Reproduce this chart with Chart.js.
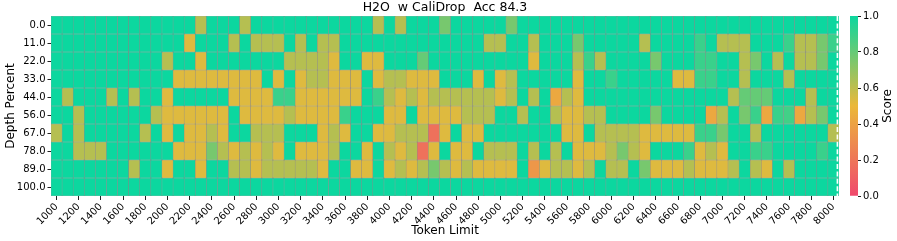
<!DOCTYPE html>
<html><head><meta charset="utf-8">
<script src="https://cdn.jsdelivr.net/npm/chart.js@4/dist/chart.umd.min.js"></script>
<style>
html,body{margin:0;padding:0;background:#fff;}
#wrap{position:relative;width:897px;height:241px;overflow:hidden;}
#main{position:absolute;left:0;top:0;}
#cbar{position:absolute;left:840px;top:0;}
</style></head><body>
<div id="wrap">
<canvas id="main" width="890" height="241"></canvas>
<canvas id="cbar" width="57" height="241"></canvas>
</div>
<script>
const chartTitle = 'H2O  w CaliDrop  Acc 84.3';
const tokenLimits = ['1000','1100','1200','1300','1400','1500','1600','1700','1800','1900',
  '2000','2100','2200','2300','2400','2500','2600','2700','2800','2900',
  '3000','3100','3200','3300','3400','3500','3600','3700','3800','3900',
  '4000','4100','4200','4300','4400','4500','4600','4700','4800','4900',
  '5000','5100','5200','5300','5400','5500','5600','5700','5800','5900',
  '6000','6100','6200','6300','6400','6500','6600','6700','6800','6900',
  '7000','7100','7200','7300','7400','7500','7600','7700','7800','7900','8000'];
const depthPercents = ['0.0','11.0','22.0','33.0','44.0','56.0','67.0','78.0','89.0','100.0'];
const colorbarTicks = [0, 0.2, 0.4, 0.6, 0.8, 1.0];

const depth0 = [1,1,1,1,1,1,1,1,1,1, 1,1,1,.62,1,1,1,.62,1,1, 1,1,1,1,1,1,1,1,1,.62, 1,.62,1,1,1,.76,1,1,1,1,
  1,.76,1,1,1,1,1,1,1,1, 1,1,1,1,1,1,1,1,1,1, 1,1,1,1,1,1,1,1,1,1, 1];
const depth11 = [1,1,1,1,1,1,1,1,1,1, 1,1,.53,1,1,1,.62,1,.62,.62, .62,1,.62,1,.62,.62,1,1,1,1, 1,1,1,1,1,1,1,1,1,.62,
  .62,1,1,.62,1,1,1,.76,1,1, 1,1,1,.62,1,1,1,1,.9,1, .62,.62,.62,1,1,1,.9,.62,.62,.76, .9];
const depth22 = [1,1,1,1,1,1,1,1,1,1, .62,1,1,.53,1,1,1,1,1,1, 1,.62,.62,.62,.62,.53,1,1,.53,.53, 1,1,1,.8,1,1,1,1,1,1,
  1,1,1,.53,1,1,1,.62,.9,.62, 1,1,1,1,.76,1,1,1,.9,.9, 1,1,.62,.76,1,.62,1,.62,.62,.76, 1];
const depth33 = [1,1,1,1,1,1,1,1,1,1, 1,.53,.53,.53,.53,.53,.53,.53,.53,1, .53,1,.53,.62,.62,.53,.53,.53,1,.53, .62,.62,.53,.53,.53,1,1,1,.53,1,
  .53,.62,1,1,1,1,1,.53,1,1, .9,1,1,1,1,1,.53,.53,.9,.9, 1,1,.62,1,1,1,.62,1,1,1, 1];
const depth44 = [1,.62,1,1,1,.62,1,.62,1,1, .53,1,1,1,1,1,.53,.53,.53,.53, .9,.9,.53,.53,.53,.53,.53,.53,1,.9, .62,.53,.62,.53,.62,.62,.62,.62,.62,.62,
  .53,.62,1,.62,1,.43,.62,.53,1,1, 1,1,1,1,1,1,1,1,1,1, 1,.62,.8,.8,.8,1,1,1,.62,1, 1];
const depth56 = [1,1,.62,1,1,1,1,1,1,.62, .53,.53,.53,.53,.53,.53,1,.53,.53,.53, .53,.62,.53,.53,.53,.53,.9,1,1,1, .53,.53,1,.53,.53,.53,.53,.62,.62,.62,
  1,1,.62,1,1,.62,.53,.53,.62,.62, 1,1,1,1,.76,1,1,1,1,.43, .62,1,.76,.9,.43,.9,.88,.43,.62,.76, 1];
const depth67 = [.62,1,.62,1,1,1,1,1,.62,1, .53,1,.53,.53,.62,.53,1,1,.62,.62, .62,1,1,1,.53,.62,.53,1,1,.53, .53,.62,.62,.62,.18,.53,1,.53,.53,1,
  1,1,1,1,1,1,.53,.53,1,.62, .62,.62,.62,.53,.53,.53,.53,.53,.9,.9, .76,1,1,.62,1,1,1,1,1,1, .62];
const depth78 = [1,1,.62,.62,.62,1,1,1,1,1, 1,.53,.53,.53,.76,.62,.53,.62,.53,.62, .53,1,.53,.53,.53,.62,1,1,.53,1, .62,.53,.62,.18,.53,1,.53,.53,1,.62,
  .62,.62,1,.62,1,.62,1,.53,.53,.53, .62,.76,.62,.53,1,1,1,.9,.53,.62, .53,1,1,.9,.9,1,1,1,1,.9, 1];
const depth89 = [1,1,1,1,1,1,1,.62,1,1, .53,1,1,.53,1,1,.62,.62,.53,.62, .62,.62,.62,.62,.53,1,1,.53,.53,1, .53,.62,.53,.62,.76,.62,.53,.62,.53,.53,
  .53,.53,1,.35,.53,.62,.62,.53,.62,1, .62,.62,1,.76,.53,.53,.53,.62,.53,.53, .53,.62,1,.62,.53,1,.62,1,1,1, 1];
const depth100 = [1,1,1,1,1,1,1,1,1,1, 1,1,1,1,1,1,1,1,1,1, 1,1,1,1,1,1,1,1,1,1, 1,1,1,1,1,1,1,1,1,1,
  1,1,1,1,1,1,1,1,1,1, 1,1,1,1,1,1,1,1,1,1, 1,1,1,1,1,1,1,1,1,1, 1];

const rows = [depth0, depth11, depth22, depth33, depth44, depth56, depth67, depth78, depth89, depth100];

const cmapStops = ['#F0496E', '#EBB839', '#0CD79F'];
function hex2rgb(h){return [parseInt(h.slice(1,3),16),parseInt(h.slice(3,5),16),parseInt(h.slice(5,7),16)];}
function colorFor(v){
  const c = cmapStops.map(hex2rgb);
  let a, b, f;
  if (v <= 0.5){ a=c[0]; b=c[1]; f=v/0.5; } else { a=c[1]; b=c[2]; f=(v-0.5)/0.5; }
  const m = a.map((x,i)=>Math.round(x+(b[i]-x)*f));
  return `rgb(${m[0]},${m[1]},${m[2]})`;
}

Chart.defaults.font.family = "'DejaVu Sans', sans-serif";
Chart.defaults.color = '#000';

const datasets = rows.map((vals, r) => ({
  data: vals.map(() => [r, r + 1]),
  backgroundColor: vals.map(colorFor),
  borderColor: 'rgba(128,128,128,0.85)',
  borderWidth: 0.5,
  borderSkipped: false,
  barPercentage: 1,
  categoryPercentage: 1,
  grouped: false
}));

const dashLine = {
  id: 'dashLine',
  afterDatasetsDraw(chart){
    const {ctx, chartArea} = chart;
    ctx.save();
    ctx.strokeStyle = '#fff';
    ctx.lineWidth = 1.6;
    ctx.setLineDash([5, 2.4]);
    const x = chartArea.right - 1.6;
    ctx.beginPath(); ctx.moveTo(x, chartArea.top); ctx.lineTo(x, chartArea.bottom); ctx.stroke();
    ctx.restore();
  }
};

const axesTitle = {
  id: 'axesTitle',
  afterDraw(chart){
    const {ctx, chartArea} = chart;
    ctx.save();
    ctx.font = "12.5px 'DejaVu Sans'";
    ctx.fillStyle = '#000';
    ctx.textAlign = 'center'; ctx.textBaseline = 'middle';
    ctx.fillText(chartTitle, (chartArea.left + chartArea.right) / 2, chartArea.top - 8);
    ctx.restore();
  }
};

new Chart(document.getElementById('main'), {
  type: 'bar',
  data: { labels: tokenLimits, datasets },
  options: {
    responsive: false, animation: false,
    layout: { padding: { left: 0, right: 51, top: 16, bottom: 0 } },
    plugins: {
      legend: { display: false }, tooltip: { enabled: false }, title: { display: false }
    },
    scales: {
      x: {
        type: 'category',
        grid: { display: true, drawOnChartArea: false, offset: false, tickLength: 4, color: '#222' },
        border: { display: false },
        afterBuildTicks: s => { s.ticks = s.ticks.filter((t, i) => i % 2 === 0); },
        ticks: { autoSkip: false, minRotation: 45, maxRotation: 45, font: { size: 10 }, color: '#000', padding: 1 },
        title: { display: true, text: 'Token Limit', font: { size: 12 }, color: '#000', padding: { top: 0, bottom: 3 } },
        afterFit: s => { s.height = 45; }
      },
      y: {
        type: 'linear', min: 0, max: 10, reverse: true,
        grid: { display: true, drawOnChartArea: false, tickLength: 3.5, color: '#222' },
        border: { display: false },
        afterBuildTicks: s => { s.ticks = depthPercents.map((_, i) => ({ value: i + 0.5 })); },
        ticks: { autoSkip: false, font: { size: 10 }, color: '#000', padding: 2,
          callback: v => depthPercents[Math.round(v - 0.5)] },
        title: { display: true, text: 'Depth Percent', font: { size: 12 }, color: '#000', padding: { top: 4, bottom: 2 } },
        afterFit: s => { s.width = 51; }
      }
    }
  },
  plugins: [dashLine, axesTitle]
});

const scoreLabel = {
  id: 'scoreLabel',
  afterDraw(chart){
    const {ctx, chartArea} = chart;
    ctx.save();
    ctx.translate(48, (chartArea.top + chartArea.bottom) / 2);
    ctx.rotate(-Math.PI / 2);
    ctx.font = "12px 'DejaVu Sans'";
    ctx.fillStyle = '#000';
    ctx.textAlign = 'center'; ctx.textBaseline = 'middle';
    ctx.fillText('Score', 0, 0);
    ctx.restore();
  }
};

new Chart(document.getElementById('cbar'), {
  type: 'bar',
  data: { labels: ['Score'], datasets: [{
    data: [[colorbarTicks[0], colorbarTicks[colorbarTicks.length - 1]]],
    backgroundColor: (c) => {
      const ca = c.chart.chartArea;
      if (!ca) return cmapStops[1];
      const g = c.chart.ctx.createLinearGradient(0, ca.bottom, 0, ca.top);
      g.addColorStop(0, cmapStops[0]); g.addColorStop(0.5, cmapStops[1]); g.addColorStop(1, cmapStops[2]);
      return g;
    },
    borderWidth: 0, barPercentage: 1, categoryPercentage: 1
  }] },
  options: {
    responsive: false, animation: false,
    layout: { padding: { left: 10, right: 0, top: 16, bottom: 45 } },
    plugins: { legend: { display: false }, tooltip: { enabled: false }, title: { display: false } },
    scales: {
      x: { display: false },
      y: {
        position: 'right', min: 0, max: 1,
        grid: { display: true, drawOnChartArea: false, tickLength: 3, color: '#222' },
        border: { display: false },
        afterBuildTicks: s => { s.ticks = colorbarTicks.map(v => ({ value: v })); },
        ticks: { font: { size: 10 }, color: '#000', padding: 2, callback: v => v.toFixed(1) },
        afterFit: s => { s.width = 39; }
      }
    }
  },
  plugins: [scoreLabel]
});
</script>
</body></html>
